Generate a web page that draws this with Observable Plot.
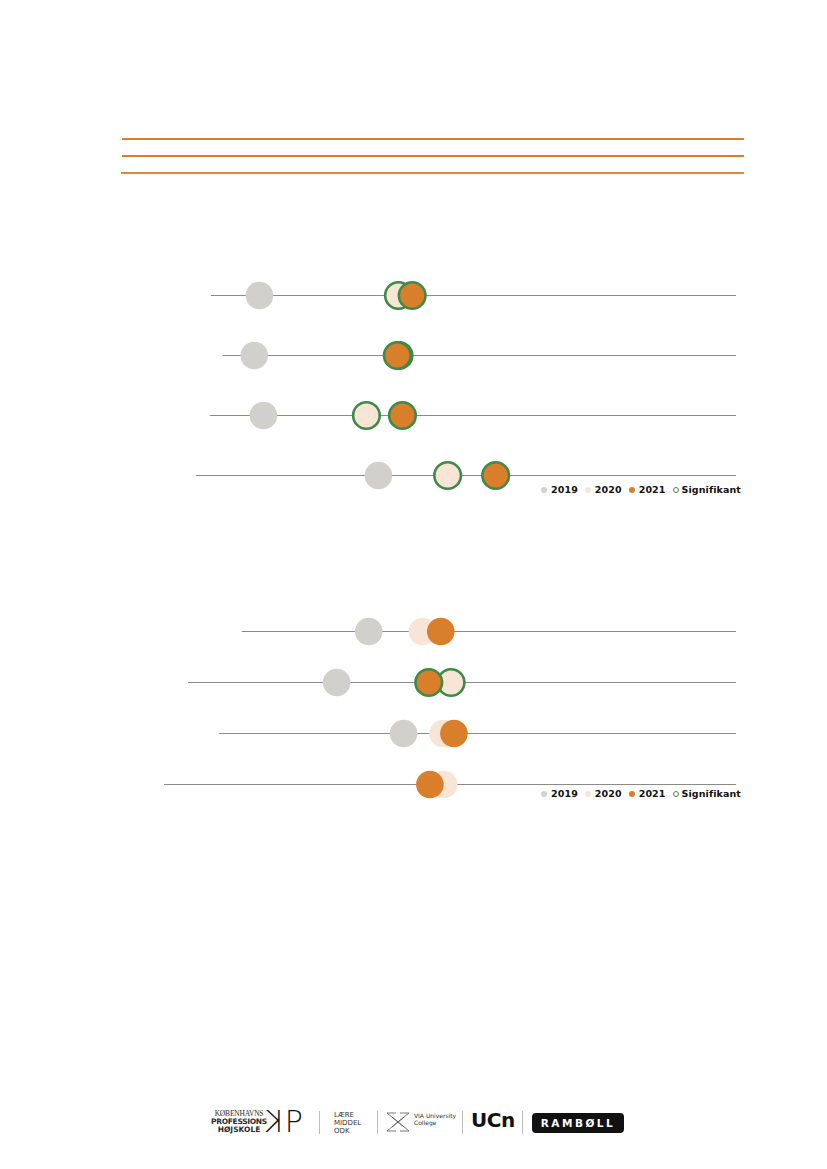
<!DOCTYPE html>
<html>
<head>
<meta charset="utf-8">
<script src="https://cdn.jsdelivr.net/npm/d3@7"></script>
<script src="https://cdn.jsdelivr.net/npm/@observablehq/plot@0.6"></script>
<style>
  html, body { margin: 0; padding: 0; background: #fff; overflow: hidden; }
  #page { position: relative; width: 827px; height: 1169px; font-family: "DejaVu Sans", Verdana, sans-serif; }
  .rule { position: absolute; left: 122px; width: 622px; height: 2px; background: #d97e2a; }
  .legend { position: absolute; left: 541px; display: flex; align-items: center; font-size: 9.5px; font-weight: bold; letter-spacing: 0.1px; color: #111; white-space: nowrap; }
  .legend .sw { width: 6px; height: 6px; border-radius: 50%; margin-right: 4px; box-sizing: border-box; }
  .legend .it { display: flex; align-items: center; margin-right: 7px; }
  .legend .it:last-child { margin-right: 0; }
  .chart { position: absolute; left: 0; }
  .div { position: absolute; top: 1111px; width: 1px; height: 23px; background: #bdbdbd; }
  .logo { position: absolute; color: #2a2a2a; }
</style>
</head>
<body>
<div id="page">
  <div class="rule" style="top:138px"></div>
  <div class="rule" style="top:155px"></div>
  <div class="rule" style="top:172px; left:121px; width:623px; background:#e0883c"></div>

  <div id="chart1" class="chart" style="top:264px"></div>
  <div id="legend1" class="legend" style="top:484px"></div>
  <div id="chart2" class="chart" style="top:601px"></div>
  <div id="legend2" class="legend" style="top:788px"></div>

  <!-- logos -->
  <div class="logo" style="left:209px; top:1110px; width:60px; text-align:center; line-height:8px;">
    <div style="font-family:'Liberation Serif',serif; font-size:7.5px; letter-spacing:-0.2px;">KØBENHAVNS</div>
    <div style="font-size:7.5px; font-weight:bold; letter-spacing:-0.3px;">PROFESSIONS</div>
    <div style="font-size:7.5px; font-weight:bold;">HØJSKOLE</div>
  </div>
  <div class="logo" style="left:268px; top:1104px; font-family:'DejaVu Sans',sans-serif; font-size:30px; font-weight:200; letter-spacing:-3px; color:#111;"><span style="display:inline-block; transform:scaleX(-1);">K</span>P</div>
  <div class="div" style="left:319px"></div>
  <div class="logo" style="left:334px; top:1111px; font-size:7px; line-height:8px; color:#333;">LÆRE<br>MIDDEL<br>ODK</div>
  <div class="div" style="left:377px"></div>
  <svg class="logo" style="left:386px; top:1111px" width="24" height="22" viewBox="0 0 24 22">
    <g fill="none" stroke="#555" stroke-width="0.8">
      <path d="M1 2 L12 11 L1 20 M23 2 L12 11 L23 20 M1 2 L10 2 M14 2 L23 2 M1 20 L10 20 M14 20 L23 20 M6 6 L18 16 M18 6 L6 16"/>
    </g>
  </svg>
  <div class="logo" style="left:414px; top:1112px; font-size:6px; line-height:7px; color:#333;">VIA University<br>College</div>
  <div class="div" style="left:462px"></div>
  <div class="logo" style="left:471px; top:1108px; font-size:20px; font-weight:900; letter-spacing:-0.5px; color:#111; font-family:'DejaVu Sans',sans-serif;">UCn</div>
  <div class="div" style="left:522px"></div>
  <div class="logo" style="left:532px; top:1113px; width:92px; height:20px; background:#111; border-radius:4px; color:#fff; font-size:10.5px; font-weight:bold; letter-spacing:2.5px; text-align:center; line-height:20px;">RAMBØLL</div>
</div>

<script>
// ---------- Data ----------
// Chart 1 (four statements, share in percent)
const rows1 = ["Udsagn 1", "Udsagn 2", "Udsagn 3", "Udsagn 4"];
const lineStart1 = [8.2, 10.2, 8.0, 5.6];
const y2019_1 = [16.6, 15.7, 17.3, 37.4];
const y2020_1 = [40.9, 41.0, 35.3, 49.5];
const y2021_1 = [43.3, 40.7, 41.6, 57.9];
const sig2020_1 = [true, true, true, true];
const sig2021_1 = [true, true, true, true];

// Chart 2
const rows2 = ["Udsagn 5", "Udsagn 6", "Udsagn 7", "Udsagn 8"];
const lineStart2 = [13.6, 4.2, 9.6, 0];
const y2019_2 = [35.7, 30.1, 41.8, null];
const y2020_2 = [45.1, 50.1, 48.7, 48.8];
const y2021_2 = [48.3, 46.2, 50.6, 46.4];
const sig2020_2 = [false, true, false, false];
const sig2021_2 = [false, true, false, false];

const years = ["2019", "2020", "2021"];
const legendLabels = ["2019", "2020", "2021", "Signifikant"];

// ---------- Styles ----------
const yearColor = {"2019": "#d1d0cb", "2020": "#f9e5d5", "2021": "#d97e2a"};
const green = "#3e8a48";

function buildPoints(rows, v19, v20, v21, s20, s21) {
  const pts = [];
  rows.forEach((r, i) => {
    if (v19[i] != null) pts.push({row: r, year: "2019", value: v19[i], sig: false});
    if (v20[i] != null) pts.push({row: r, year: "2020", value: v20[i], sig: s20[i]});
    if (v21[i] != null) pts.push({row: r, year: "2021", value: v21[i], sig: s21[i]});
  });
  return pts;
}

function chart(rows, starts, points, height, yRange) {
  const lines = rows.map((r, i) => ({row: r, start: starts[i], end: 100}));
  const marks = [
    Plot.ruleY(lines, {y: "row", x1: "start", x2: "end", stroke: "#8a8a8a", strokeWidth: 1})
  ];
  for (const yr of years) {
    const pts = points.filter(d => d.year === yr);
    marks.push(Plot.dot(pts.filter(d => !d.sig), {x: "value", y: "row", r: 13.8, fill: yearColor[yr], stroke: "none"}));
    marks.push(Plot.dot(pts.filter(d => d.sig), {x: "value", y: "row", r: 13.3, fill: yearColor[yr], stroke: green, strokeWidth: 2.6}));
  }
  return Plot.plot({
    width: 827,
    height,
    marginLeft: 164,
    marginRight: 91,
    marginTop: 0,
    marginBottom: 0,
    style: {background: "transparent", overflow: "visible"},
    x: {domain: [0, 100], axis: null},
    y: {type: "point", domain: rows, range: yRange, padding: 0, axis: null},
    marks
  });
}

function legend(el) {
  legendLabels.forEach((lab, i) => {
    const it = document.createElement("div");
    it.className = "it";
    const sw = document.createElement("div");
    sw.className = "sw";
    if (lab === "Signifikant") {
      sw.style.border = "1.6px solid " + green;
      sw.style.background = "#fff";
      sw.style.marginRight = "3px";
    } else {
      sw.style.background = yearColor[lab];
    }
    const t = document.createElement("span");
    t.textContent = lab;
    it.appendChild(sw);
    it.appendChild(t);
    el.appendChild(it);
  });
}

document.getElementById("chart1").appendChild(
  chart(rows1, lineStart1, buildPoints(rows1, y2019_1, y2020_1, y2021_1, sig2020_1, sig2021_1), 240, [30, 211])
);
document.getElementById("chart2").appendChild(
  chart(rows2, lineStart2, buildPoints(rows2, y2019_2, y2020_2, y2021_2, sig2020_2, sig2021_2), 200, [30, 183])
);
legend(document.getElementById("legend1"));
legend(document.getElementById("legend2"));
</script>
</body>
</html>
